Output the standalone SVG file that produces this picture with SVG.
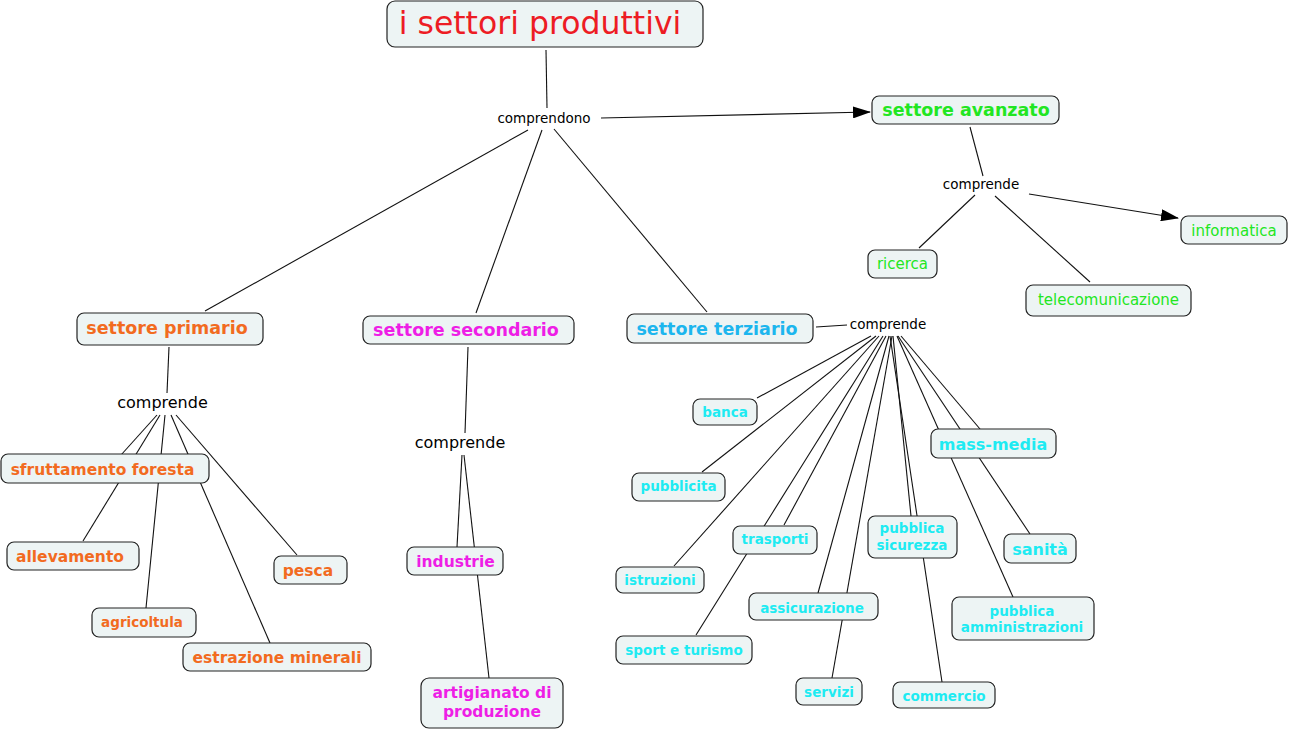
<svg xmlns="http://www.w3.org/2000/svg" width="1290" height="731" viewBox="0 0 1290 731">
<defs>
<marker id="arr" markerWidth="18" markerHeight="12" refX="17" refY="6" orient="auto" markerUnits="userSpaceOnUse">
<path d="M0,0 L18,6 L0,12 Z" fill="#000"/>
</marker>
<style>
.box{fill:#EDF4F4;stroke:#222;stroke-width:1.2}
.ln{stroke:#111;stroke-width:1.1;fill:none}
text{font-family:"DejaVu Sans",Verdana,sans-serif;text-anchor:middle}
.lab{fill:#000;font-size:13.5px}
.lab16{fill:#000;font-size:16px}
.sec{font-size:17.5px;font-weight:bold}
.org{fill:#F26B1F;font-weight:bold;font-size:15.5px}
.mag{fill:#EE1EE6;font-weight:bold;font-size:15.5px}
.cy{fill:#1EEBF2;font-weight:bold;font-size:13.5px}
.gr{fill:#22E622;font-size:15px}
</style>
</defs>
<rect width="1290" height="731" fill="#fff"/>
<g id="connectors">
<line class="ln" x1="546" y1="50" x2="547" y2="108"/>
<line class="ln" x1="528" y1="130" x2="205" y2="311"/>
<line class="ln" x1="542" y1="130" x2="476" y2="313"/>
<line class="ln" x1="554" y1="129" x2="707" y2="312"/>
<line class="ln" x1="601" y1="118" x2="870" y2="112" marker-end="url(#arr)"/>
<line class="ln" x1="970" y1="127" x2="983" y2="176"/>
<line class="ln" x1="975" y1="195" x2="919" y2="248"/>
<line class="ln" x1="995" y1="196" x2="1090" y2="282"/>
<line class="ln" x1="1029" y1="194" x2="1178" y2="218" marker-end="url(#arr)"/>
<line class="ln" x1="169" y1="347" x2="167" y2="393"/>
<line class="ln" x1="157" y1="415" x2="121" y2="455"/>
<line class="ln" x1="160" y1="415" x2="83" y2="541"/>
<line class="ln" x1="165" y1="415" x2="146" y2="608"/>
<line class="ln" x1="171" y1="415" x2="270" y2="643"/>
<line class="ln" x1="176" y1="415" x2="297" y2="555"/>
<line class="ln" x1="468" y1="347" x2="465" y2="433"/>
<line class="ln" x1="462" y1="455" x2="457" y2="547"/>
<line class="ln" x1="464" y1="455" x2="489" y2="678"/>
<line class="ln" x1="816" y1="327" x2="847" y2="325"/>
<line class="ln" x1="871" y1="336" x2="757" y2="398"/>
<line class="ln" x1="876" y1="336" x2="702" y2="472"/>
<line class="ln" x1="879" y1="336" x2="674" y2="566"/>
<line class="ln" x1="883" y1="336" x2="696" y2="635"/>
<line class="ln" x1="886" y1="336" x2="784" y2="525"/>
<line class="ln" x1="889" y1="336" x2="818" y2="593"/>
<line class="ln" x1="892" y1="336" x2="832" y2="678"/>
<line class="ln" x1="893" y1="336" x2="911" y2="516"/>
<line class="ln" x1="890" y1="336" x2="942" y2="682"/>
<line class="ln" x1="897" y1="336" x2="1013" y2="597"/>
<line class="ln" x1="898" y1="336" x2="1030" y2="534"/>
<line class="ln" x1="901" y1="336" x2="980" y2="429"/>
</g>
<g id="title"><rect class="box" x="387" y="1" width="316" height="46" rx="8"/><text x="540" y="34" style="fill:#ED1C24;font-size:31.5px">i settori produttivi</text></g>
<g id="lbl-comprendono"><text class="lab" x="544" y="123">comprendono</text></g>
<g id="avanzato"><rect class="box" x="872" y="96" width="187" height="28" rx="7"/><text class="sec" x="966" y="116" fill="#22E622">settore avanzato</text></g>
<g id="lbl-avanzato"><text class="lab" x="981" y="189">comprende</text></g>
<g id="informatica"><rect class="box" x="1181" y="216" width="106" height="28" rx="7"/><text class="gr" x="1234" y="236">informatica</text></g>
<g id="ricerca"><rect class="box" x="868" y="250" width="69" height="28" rx="7"/><text class="gr" x="902.5" y="269">ricerca</text></g>
<g id="telecomunicazione"><rect class="box" x="1026" y="285" width="165" height="31" rx="7"/><text class="gr" x="1108.5" y="305">telecomunicazione</text></g>
<g id="primario"><rect class="box" x="77" y="313" width="186" height="32" rx="7"/><text class="sec" x="167" y="334" fill="#F26B1F">settore primario</text></g>
<g id="lbl-primario"><text class="lab16" x="162.5" y="408">comprende</text></g>
<g id="sfruttamento"><rect class="box" x="1" y="454" width="208" height="29" rx="7"/><text class="org" x="102.5" y="475">sfruttamento foresta</text></g>
<g id="allevamento"><rect class="box" x="7" y="542" width="132" height="28" rx="7"/><text class="org" x="70" y="562">allevamento</text></g>
<g id="agricoltula"><rect class="box" x="92" y="608" width="104" height="29" rx="7"/><text class="org" x="142" y="627" style="font-size:13.5px">agricoltula</text></g>
<g id="estrazione"><rect class="box" x="183" y="643" width="188" height="28" rx="7"/><text class="org" x="277" y="663">estrazione minerali</text></g>
<g id="pesca"><rect class="box" x="274" y="556" width="73" height="28" rx="7"/><text class="org" x="308" y="576">pesca</text></g>
<g id="secondario"><rect class="box" x="363" y="316" width="211" height="28" rx="7"/><text class="sec" x="466" y="336" fill="#EE1EE6">settore secondario</text></g>
<g id="lbl-secondario"><text class="lab16" x="460" y="448">comprende</text></g>
<g id="industrie"><rect class="box" x="407" y="547" width="96" height="28" rx="7"/><text class="mag" x="455.5" y="567">industrie</text></g>
<g id="artigianato"><rect class="box" x="421" y="678" width="142" height="50" rx="8"/><text class="mag" x="492" y="698">artigianato di</text><text class="mag" x="492" y="717">produzione</text></g>
<g id="terziario"><rect class="box" x="627" y="314" width="186" height="29" rx="7"/><text class="sec" x="717" y="335" fill="#1DB6EE">settore terziario</text></g>
<g id="lbl-terziario"><text class="lab" x="888" y="329">comprende</text></g>
<g id="banca"><rect class="box" x="693" y="399" width="64" height="26" rx="7"/><text class="cy" x="725" y="417">banca</text></g>
<g id="pubblicita"><rect class="box" x="632" y="473" width="93" height="28" rx="7"/><text class="cy" x="678.5" y="491">pubblicita</text></g>
<g id="trasporti"><rect class="box" x="733" y="526" width="84" height="28" rx="7"/><text class="cy" x="775" y="544">trasporti</text></g>
<g id="istruzioni"><rect class="box" x="616" y="567" width="88" height="26" rx="7"/><text class="cy" x="660" y="585">istruzioni</text></g>
<g id="sport"><rect class="box" x="616" y="636" width="136" height="28" rx="7"/><text class="cy" x="684" y="655">sport e turismo</text></g>
<g id="assicurazione"><rect class="box" x="749" y="593" width="129" height="27" rx="7"/><text class="cy" x="812" y="613">assicurazione</text></g>
<g id="servizi"><rect class="box" x="796" y="678" width="66" height="27" rx="7"/><text class="cy" x="829" y="697">servizi</text></g>
<g id="commercio"><rect class="box" x="893" y="682" width="102" height="26" rx="7"/><text class="cy" x="944" y="701">commercio</text></g>
<g id="sicurezza"><rect class="box" x="868" y="516" width="89" height="42" rx="7"/><text class="cy" x="912" y="533">pubblica</text><text class="cy" x="912" y="550">sicurezza</text></g>
<g id="massmedia"><rect class="box" x="931" y="429" width="125" height="29" rx="7"/><text class="cy" x="993" y="450" style="font-size:16px">mass-media</text></g>
<g id="sanita"><rect class="box" x="1004" y="534" width="72" height="29" rx="7"/><text class="cy" x="1040" y="555" style="font-size:16px">sanità</text></g>
<g id="amministrazioni"><rect class="box" x="952" y="597" width="142" height="43" rx="7"/><text class="cy" x="1022" y="616">pubblica</text><text class="cy" x="1022" y="632">amministrazioni</text></g>
</svg>
